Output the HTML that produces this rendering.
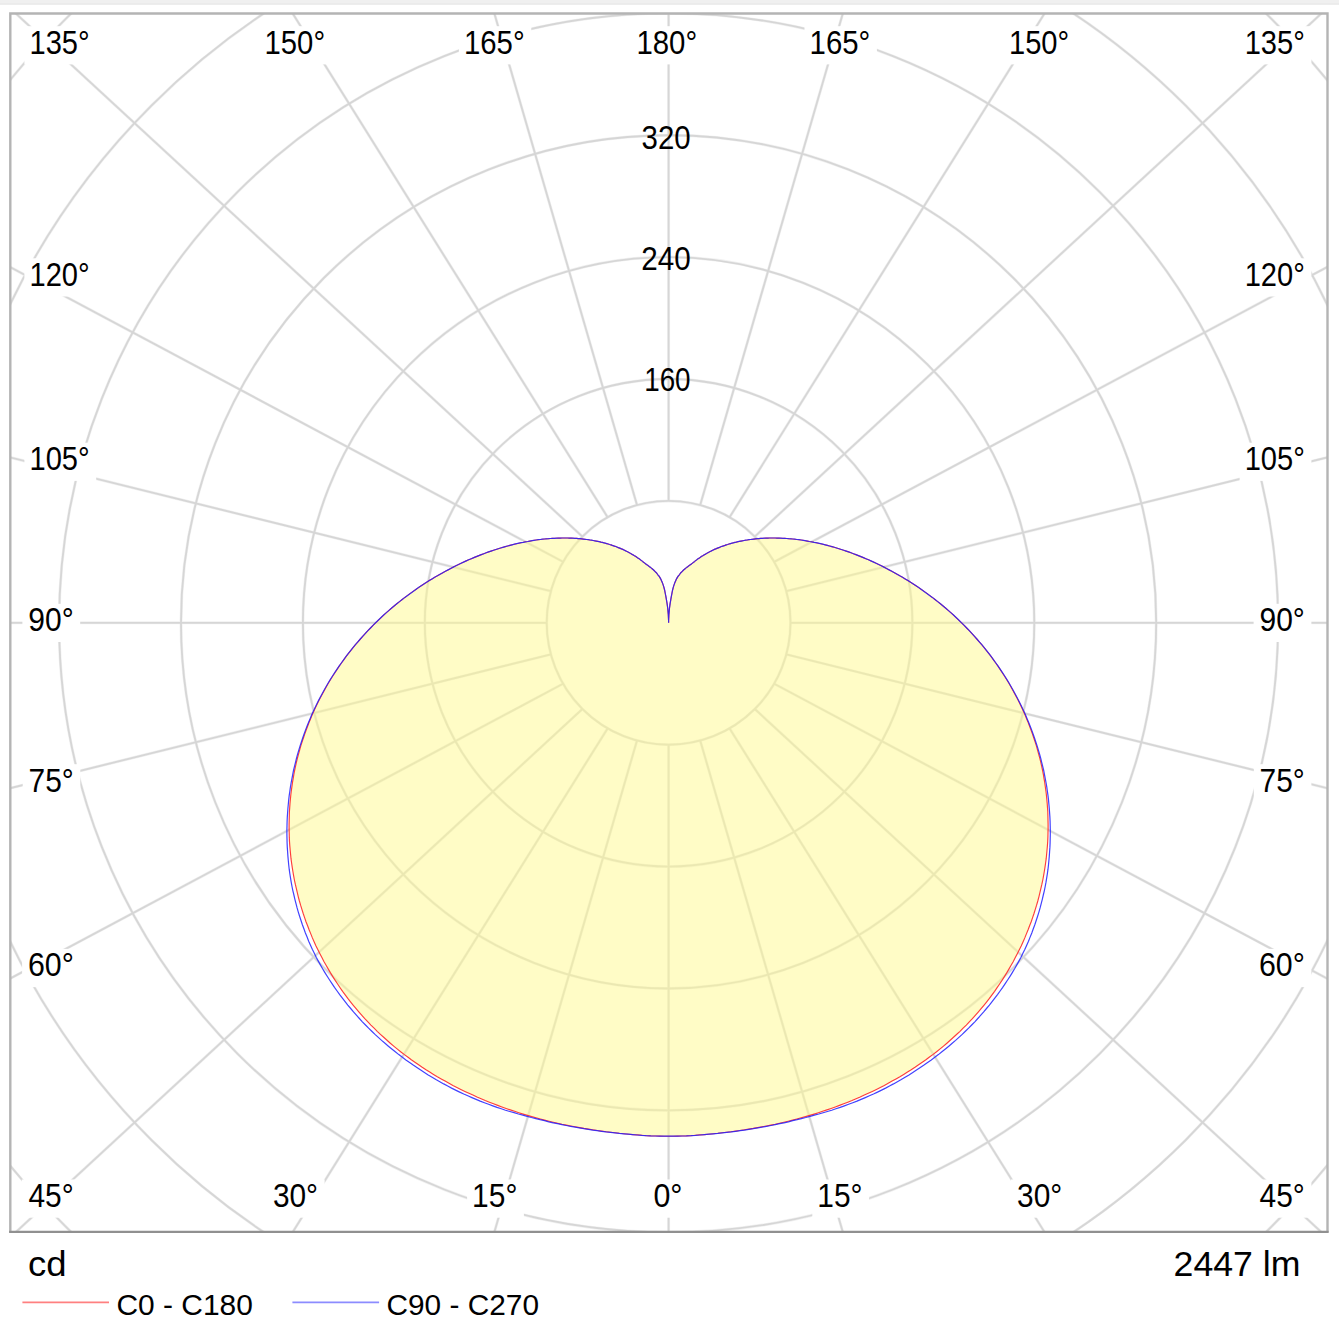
<!DOCTYPE html>
<html><head><meta charset="utf-8"><title>Polar diagram</title>
<style>
html,body{margin:0;padding:0;background:#fff;}
body{width:1339px;height:1324px;overflow:hidden;position:relative;font-family:"Liberation Sans",sans-serif;}
svg{position:absolute;left:0;top:0;display:block}
text{font-family:"Liberation Sans",sans-serif;fill:#000}
</style></head><body>
<svg width="1339" height="1324" viewBox="0 0 1339 1324">
<defs><clipPath id="fr"><rect x="10.3" y="13.5" width="1317.2" height="1218.3"/></clipPath></defs>
<rect x="0" y="0" width="1339" height="3.2" fill="#f0f0f0"/>
<rect x="0" y="3.2" width="1339" height="1.5" fill="#e6e6e6"/>

<g clip-path="url(#fr)">
<defs><g id="grid"><circle cx="668.6" cy="622.8" r="121.9"/><circle cx="668.6" cy="622.8" r="243.8"/><circle cx="668.6" cy="622.8" r="365.7"/><circle cx="668.6" cy="622.8" r="487.6"/><circle cx="668.6" cy="622.8" r="609.5"/><circle cx="668.6" cy="622.8" r="731.4"/><circle cx="668.6" cy="622.8" r="853.3"/><circle cx="668.6" cy="622.8" r="975.2"/><line x1="668.6" y1="744.7" x2="668.6" y2="1844.7"/><line x1="700.2" y1="740.5" x2="1006.7" y2="1797.0"/><line x1="729.6" y1="728.4" x2="1312.7" y2="1661.1"/><line x1="754.8" y1="709.0" x2="1563.0" y2="1455.2"/><line x1="774.2" y1="683.8" x2="1744.8" y2="1201.2"/><line x1="786.3" y1="654.4" x2="1854.1" y2="918.5"/><line x1="790.5" y1="622.8" x2="1890.5" y2="622.8"/><line x1="786.3" y1="591.2" x2="1854.1" y2="327.1"/><line x1="774.2" y1="561.9" x2="1744.8" y2="44.4"/><line x1="754.8" y1="536.6" x2="1563.0" y2="-209.6"/><line x1="729.6" y1="517.2" x2="1312.7" y2="-415.5"/><line x1="700.2" y1="505.1" x2="1006.7" y2="-551.4"/><line x1="668.6" y1="500.9" x2="668.6" y2="-599.1"/><line x1="637.0" y1="505.1" x2="330.5" y2="-551.4"/><line x1="607.6" y1="517.2" x2="24.5" y2="-415.5"/><line x1="582.4" y1="536.6" x2="-225.8" y2="-209.6"/><line x1="563.0" y1="561.8" x2="-407.6" y2="44.4"/><line x1="550.9" y1="591.2" x2="-516.9" y2="327.1"/><line x1="546.7" y1="622.8" x2="-553.3" y2="622.8"/><line x1="550.9" y1="654.4" x2="-516.9" y2="918.5"/><line x1="563.0" y1="683.8" x2="-407.6" y2="1201.2"/><line x1="582.4" y1="709.0" x2="-225.8" y2="1455.2"/><line x1="607.6" y1="728.4" x2="24.5" y2="1661.1"/><line x1="637.0" y1="740.5" x2="330.5" y2="1797.0"/></g></defs>
<use href="#grid" fill="none" stroke="#f1f1f1" stroke-width="3.0"/>
<use href="#grid" fill="none" stroke="#d6d6d6" stroke-width="1.85"/>
<path d="M668.6 1136.2 L673.1 1136.2 L677.6 1136.1 L682.0 1136.0 L686.5 1135.9 L691.0 1135.7 L695.5 1135.3 L699.9 1134.9 L704.4 1134.6 L708.8 1134.2 L713.3 1133.7 L717.8 1133.3 L722.2 1132.8 L726.6 1132.3 L731.1 1131.7 L735.5 1131.1 L740.0 1130.5 L744.4 1129.8 L748.8 1129.1 L753.2 1128.4 L757.6 1127.6 L762.0 1126.8 L766.4 1126.0 L770.8 1125.1 L775.2 1124.2 L779.5 1123.2 L783.9 1122.2 L788.2 1121.2 L792.6 1120.1 L796.9 1119.0 L801.2 1117.8 L805.5 1116.6 L809.8 1115.4 L814.1 1114.1 L818.4 1112.7 L822.6 1111.3 L826.9 1109.9 L831.1 1108.5 L835.3 1107.0 L839.5 1105.4 L843.7 1103.8 L847.8 1102.2 L852.0 1100.5 L856.1 1098.7 L860.2 1097.0 L864.3 1095.1 L868.3 1093.3 L872.3 1091.4 L876.4 1089.4 L880.3 1087.4 L884.3 1085.4 L888.2 1083.3 L892.1 1081.1 L896.0 1078.9 L899.9 1076.7 L903.7 1074.4 L907.5 1072.0 L911.2 1069.7 L915.0 1067.2 L918.6 1064.7 L922.3 1062.2 L925.9 1059.7 L929.5 1057.0 L933.1 1054.4 L936.6 1051.7 L940.1 1048.9 L943.5 1046.1 L946.9 1043.2 L950.2 1040.3 L953.5 1037.3 L956.8 1034.3 L960.0 1031.3 L963.1 1028.2 L966.3 1025.1 L969.3 1021.9 L972.4 1018.7 L975.3 1015.4 L978.2 1012.1 L981.1 1008.7 L983.9 1005.3 L986.7 1001.8 L989.4 998.4 L992.0 994.8 L994.6 991.3 L997.1 987.7 L999.6 984.0 L1002.0 980.4 L1004.4 976.6 L1006.7 972.9 L1008.9 969.1 L1011.1 965.3 L1013.3 961.5 L1015.3 957.6 L1017.3 953.7 L1019.3 949.8 L1021.2 945.9 L1023.0 941.9 L1024.8 937.9 L1026.4 933.9 L1028.1 929.8 L1029.6 925.7 L1031.2 921.7 L1032.6 917.6 L1034.0 913.5 L1035.3 909.3 L1036.6 905.2 L1037.8 901.0 L1038.9 896.8 L1039.9 892.6 L1040.9 888.4 L1041.9 884.2 L1042.8 880.0 L1043.6 875.7 L1044.3 871.5 L1045.0 867.2 L1045.6 863.0 L1046.2 858.7 L1046.6 854.5 L1047.0 850.2 L1047.4 845.9 L1047.7 841.6 L1047.9 837.4 L1048.0 833.1 L1048.1 828.8 L1048.1 824.6 L1048.0 820.3 L1047.9 816.1 L1047.8 811.8 L1047.5 807.6 L1047.2 803.4 L1046.8 799.2 L1046.4 795.0 L1045.9 790.8 L1045.3 786.6 L1044.7 782.4 L1044.0 778.3 L1043.3 774.2 L1042.5 770.1 L1041.6 766.0 L1040.7 761.9 L1039.7 757.9 L1038.6 753.8 L1037.5 749.8 L1036.4 745.9 L1035.1 741.9 L1033.8 738.0 L1032.5 734.1 L1031.1 730.2 L1029.6 726.3 L1028.2 722.5 L1026.6 718.7 L1025.1 715.0 L1023.4 711.3 L1021.7 707.6 L1020.0 703.9 L1018.2 700.3 L1016.3 696.7 L1014.4 693.2 L1012.5 689.7 L1010.6 686.2 L1008.6 682.7 L1006.5 679.3 L1004.4 676.0 L1002.3 672.7 L1000.1 669.4 L998.0 666.2 L995.7 663.0 L993.5 659.8 L991.2 656.7 L988.9 653.6 L986.5 650.6 L984.2 647.6 L981.7 644.7 L979.3 641.8 L976.8 639.0 L974.3 636.1 L971.8 633.4 L969.3 630.7 L966.7 628.0 L964.2 625.4 L961.6 622.8 L959.0 620.3 L956.4 617.8 L953.8 615.3 L951.1 612.9 L948.5 610.6 L945.8 608.3 L943.1 606.0 L940.4 603.8 L937.7 601.6 L935.0 599.5 L932.3 597.4 L929.6 595.4 L926.9 593.4 L924.1 591.4 L921.4 589.5 L918.7 587.6 L916.0 585.8 L913.3 584.0 L910.6 582.3 L907.9 580.6 L905.2 578.9 L902.5 577.3 L899.8 575.8 L897.1 574.2 L894.4 572.7 L891.8 571.3 L889.2 569.9 L886.5 568.5 L883.9 567.1 L881.3 565.8 L878.7 564.5 L876.1 563.3 L873.6 562.1 L871.0 560.9 L868.5 559.8 L865.9 558.7 L863.4 557.6 L860.9 556.6 L858.4 555.6 L855.9 554.6 L853.4 553.7 L851.0 552.8 L848.6 551.9 L846.2 551.1 L843.7 550.3 L841.3 549.5 L839.0 548.7 L836.6 548.0 L834.3 547.3 L831.9 546.6 L829.6 546.0 L827.3 545.4 L825.1 544.8 L822.8 544.2 L820.6 543.7 L818.3 543.2 L816.1 542.7 L813.9 542.3 L811.7 541.8 L809.5 541.5 L807.4 541.1 L805.2 540.7 L803.2 540.3 L801.1 540.0 L799.0 539.7 L796.9 539.5 L794.8 539.2 L792.8 539.0 L790.8 538.8 L788.7 538.7 L786.8 538.5 L784.8 538.4 L782.8 538.3 L780.9 538.2 L778.9 538.1 L777.0 538.1 L775.2 538.0 L773.3 538.0 L771.5 538.0 L769.6 538.0 L767.8 538.1 L766.0 538.1 L764.2 538.2 L762.5 538.3 L760.7 538.4 L758.9 538.6 L757.2 538.7 L755.5 538.9 L753.8 539.1 L752.1 539.3 L750.5 539.5 L748.8 539.7 L747.2 540.0 L745.6 540.2 L744.0 540.5 L742.5 540.8 L740.9 541.1 L739.4 541.4 L737.9 541.7 L736.3 542.1 L734.9 542.4 L733.4 542.8 L731.9 543.2 L730.5 543.6 L729.0 544.0 L727.6 544.5 L726.2 544.9 L724.9 545.4 L723.5 545.9 L722.1 546.3 L720.8 546.8 L719.5 547.4 L718.2 547.9 L716.9 548.4 L715.7 548.9 L714.4 549.4 L713.2 550.0 L712.0 550.6 L710.8 551.2 L709.6 551.8 L708.4 552.4 L707.3 553.1 L706.1 553.7 L705.0 554.4 L703.9 555.0 L702.8 555.7 L701.7 556.3 L700.7 557.0 L699.7 557.7 L698.6 558.4 L697.6 559.1 L696.6 559.9 L695.6 560.6 L694.7 561.4 L693.7 562.2 L692.8 562.9 L691.9 563.6 L691.1 564.2 L690.3 564.8 L689.5 565.3 L688.7 565.9 L688.0 566.5 L687.3 567.0 L686.5 567.6 L685.8 568.1 L685.1 568.7 L684.5 569.2 L683.8 569.8 L683.1 570.5 L682.5 571.1 L681.8 571.8 L681.1 572.5 L680.5 573.2 L679.9 574.0 L679.3 574.8 L678.6 575.6 L678.0 576.4 L677.4 577.4 L676.8 578.4 L676.2 579.6 L675.6 580.9 L675.0 582.3 L674.4 583.9 L673.8 585.6 L673.2 587.6 L672.6 590.0 L672.0 593.0 L671.4 596.1 L670.9 598.9 L670.5 601.4 L670.1 603.7 L669.8 605.9 L669.5 608.0 L669.3 610.2 L669.1 612.4 L668.9 614.5 L668.8 616.7 L668.7 618.7 L668.6 620.8 L668.6 622.8 L668.6 622.8 L668.6 620.8 L668.5 618.7 L668.4 616.7 L668.3 614.5 L668.1 612.4 L667.9 610.2 L667.7 608.0 L667.4 605.9 L667.1 603.7 L666.7 601.4 L666.3 598.9 L665.8 596.1 L665.2 593.0 L664.6 590.0 L664.0 587.6 L663.4 585.6 L662.8 583.9 L662.2 582.3 L661.6 580.9 L661.0 579.6 L660.4 578.4 L659.8 577.4 L659.2 576.4 L658.6 575.6 L657.9 574.8 L657.3 574.0 L656.7 573.2 L656.1 572.5 L655.4 571.8 L654.7 571.1 L654.1 570.5 L653.4 569.8 L652.7 569.2 L652.1 568.7 L651.4 568.1 L650.7 567.6 L649.9 567.0 L649.2 566.5 L648.5 565.9 L647.7 565.3 L646.9 564.8 L646.1 564.2 L645.3 563.6 L644.4 562.9 L643.5 562.2 L642.5 561.4 L641.6 560.6 L640.6 559.9 L639.6 559.1 L638.6 558.4 L637.5 557.7 L636.5 557.0 L635.5 556.3 L634.4 555.7 L633.3 555.0 L632.2 554.4 L631.1 553.7 L629.9 553.1 L628.8 552.4 L627.6 551.8 L626.4 551.2 L625.2 550.6 L624.0 550.0 L622.8 549.4 L621.5 548.9 L620.3 548.4 L619.0 547.9 L617.7 547.4 L616.4 546.8 L615.1 546.3 L613.7 545.9 L612.3 545.4 L611.0 544.9 L609.6 544.5 L608.2 544.0 L606.7 543.6 L605.3 543.2 L603.8 542.8 L602.3 542.4 L600.9 542.1 L599.3 541.7 L597.8 541.4 L596.3 541.1 L594.7 540.8 L593.2 540.5 L591.6 540.2 L590.0 540.0 L588.4 539.7 L586.7 539.5 L585.1 539.3 L583.4 539.1 L581.7 538.9 L580.0 538.7 L578.3 538.6 L576.5 538.4 L574.7 538.3 L573.0 538.2 L571.2 538.1 L569.4 538.1 L567.6 538.0 L565.7 538.0 L563.9 538.0 L562.0 538.0 L560.2 538.1 L558.3 538.1 L556.3 538.2 L554.4 538.3 L552.4 538.4 L550.4 538.5 L548.5 538.7 L546.4 538.8 L544.4 539.0 L542.4 539.2 L540.3 539.5 L538.2 539.7 L536.1 540.0 L534.0 540.3 L532.0 540.7 L529.8 541.1 L527.7 541.5 L525.5 541.8 L523.3 542.3 L521.1 542.7 L518.9 543.2 L516.6 543.7 L514.4 544.2 L512.1 544.8 L509.9 545.4 L507.6 546.0 L505.3 546.6 L502.9 547.3 L500.6 548.0 L498.2 548.7 L495.9 549.5 L493.5 550.3 L491.0 551.1 L488.6 551.9 L486.2 552.8 L483.8 553.7 L481.3 554.6 L478.8 555.6 L476.3 556.6 L473.8 557.6 L471.3 558.7 L468.7 559.8 L466.2 560.9 L463.6 562.1 L461.1 563.3 L458.5 564.5 L455.9 565.8 L453.3 567.1 L450.7 568.5 L448.0 569.9 L445.4 571.3 L442.8 572.7 L440.1 574.2 L437.4 575.8 L434.7 577.3 L432.0 578.9 L429.3 580.6 L426.6 582.3 L423.9 584.0 L421.2 585.8 L418.5 587.6 L415.8 589.5 L413.1 591.4 L410.3 593.4 L407.6 595.4 L404.9 597.4 L402.2 599.5 L399.5 601.6 L396.8 603.8 L394.1 606.0 L391.4 608.3 L388.7 610.6 L386.1 612.9 L383.4 615.3 L380.8 617.8 L378.2 620.3 L375.6 622.8 L373.0 625.4 L370.5 628.0 L367.9 630.7 L365.4 633.4 L362.9 636.1 L360.4 639.0 L357.9 641.8 L355.5 644.7 L353.0 647.6 L350.7 650.6 L348.3 653.6 L346.0 656.7 L343.7 659.8 L341.5 663.0 L339.2 666.2 L337.1 669.4 L334.9 672.7 L332.8 676.0 L330.7 679.3 L328.6 682.7 L326.6 686.2 L324.7 689.7 L322.8 693.2 L320.9 696.7 L319.0 700.3 L317.2 703.9 L315.5 707.6 L313.8 711.3 L312.1 715.0 L310.6 718.7 L309.0 722.5 L307.6 726.3 L306.1 730.2 L304.7 734.1 L303.4 738.0 L302.1 741.9 L300.8 745.9 L299.7 749.8 L298.6 753.8 L297.5 757.9 L296.5 761.9 L295.6 766.0 L294.7 770.1 L293.9 774.2 L293.2 778.3 L292.5 782.4 L291.9 786.6 L291.3 790.8 L290.8 795.0 L290.4 799.2 L290.0 803.4 L289.7 807.6 L289.4 811.8 L289.3 816.1 L289.2 820.3 L289.1 824.6 L289.1 828.8 L289.2 833.1 L289.3 837.4 L289.5 841.6 L289.8 845.9 L290.2 850.2 L290.6 854.5 L291.0 858.7 L291.6 863.0 L292.2 867.2 L292.9 871.5 L293.6 875.7 L294.4 880.0 L295.3 884.2 L296.3 888.4 L297.3 892.6 L298.3 896.8 L299.4 901.0 L300.6 905.2 L301.9 909.3 L303.2 913.5 L304.6 917.6 L306.0 921.7 L307.6 925.7 L309.1 929.8 L310.8 933.9 L312.4 937.9 L314.2 941.9 L316.0 945.9 L317.9 949.8 L319.9 953.7 L321.9 957.6 L323.9 961.5 L326.1 965.3 L328.3 969.1 L330.5 972.9 L332.8 976.6 L335.2 980.4 L337.6 984.0 L340.1 987.7 L342.6 991.3 L345.2 994.8 L347.8 998.4 L350.5 1001.8 L353.3 1005.3 L356.1 1008.7 L359.0 1012.1 L361.9 1015.4 L364.8 1018.7 L367.9 1021.9 L370.9 1025.1 L374.1 1028.2 L377.2 1031.3 L380.4 1034.3 L383.7 1037.3 L387.0 1040.3 L390.3 1043.2 L393.7 1046.1 L397.1 1048.9 L400.6 1051.7 L404.1 1054.4 L407.7 1057.0 L411.3 1059.7 L414.9 1062.2 L418.6 1064.7 L422.2 1067.2 L426.0 1069.7 L429.7 1072.0 L433.5 1074.4 L437.3 1076.7 L441.2 1078.9 L445.1 1081.1 L449.0 1083.3 L452.9 1085.4 L456.9 1087.4 L460.8 1089.4 L464.9 1091.4 L468.9 1093.3 L472.9 1095.1 L477.0 1097.0 L481.1 1098.7 L485.2 1100.5 L489.4 1102.2 L493.5 1103.8 L497.7 1105.4 L501.9 1107.0 L506.1 1108.5 L510.3 1109.9 L514.6 1111.3 L518.8 1112.7 L523.1 1114.1 L527.4 1115.4 L531.7 1116.6 L536.0 1117.8 L540.3 1119.0 L544.6 1120.1 L549.0 1121.2 L553.3 1122.2 L557.7 1123.2 L562.0 1124.2 L566.4 1125.1 L570.8 1126.0 L575.2 1126.8 L579.6 1127.6 L584.0 1128.4 L588.4 1129.1 L592.8 1129.8 L597.2 1130.5 L601.7 1131.1 L606.1 1131.7 L610.6 1132.3 L615.0 1132.8 L619.4 1133.3 L623.9 1133.7 L628.4 1134.2 L632.8 1134.6 L637.3 1134.9 L641.7 1135.3 L646.2 1135.7 L650.7 1135.9 L655.2 1136.0 L659.6 1136.1 L664.1 1136.2 L668.6 1136.2Z" fill="rgba(255,249,143,0.51)" stroke="none"/>
<path d="M668.6 1136.2 L673.1 1136.2 L677.6 1136.1 L682.0 1136.0 L686.5 1135.9 L691.0 1135.7 L695.5 1135.3 L699.9 1134.9 L704.4 1134.6 L708.8 1134.2 L713.3 1133.7 L717.8 1133.3 L722.2 1132.8 L726.6 1132.3 L731.1 1131.7 L735.5 1131.1 L740.0 1130.5 L744.4 1129.8 L748.8 1129.1 L753.2 1128.4 L757.6 1127.6 L762.0 1126.8 L766.4 1126.0 L770.8 1125.1 L775.2 1124.2 L779.5 1123.2 L783.9 1122.2 L788.2 1121.2 L792.6 1120.1 L796.9 1119.0 L801.2 1117.8 L805.5 1116.6 L809.8 1115.4 L814.1 1114.1 L818.4 1112.7 L822.6 1111.3 L826.9 1109.9 L831.1 1108.5 L835.3 1107.0 L839.5 1105.4 L843.7 1103.8 L847.8 1102.2 L852.0 1100.5 L856.1 1098.7 L860.2 1097.0 L864.3 1095.1 L868.3 1093.3 L872.3 1091.4 L876.4 1089.4 L880.3 1087.4 L884.3 1085.4 L888.2 1083.3 L892.1 1081.1 L896.0 1078.9 L899.9 1076.7 L903.7 1074.4 L907.5 1072.0 L911.2 1069.7 L915.0 1067.2 L918.6 1064.7 L922.3 1062.2 L925.9 1059.7 L929.5 1057.0 L933.1 1054.4 L936.6 1051.7 L940.1 1048.9 L943.5 1046.1 L946.9 1043.2 L950.2 1040.3 L953.5 1037.3 L956.8 1034.3 L960.0 1031.3 L963.1 1028.2 L966.3 1025.1 L969.3 1021.9 L972.4 1018.7 L975.3 1015.4 L978.2 1012.1 L981.1 1008.7 L983.9 1005.3 L986.7 1001.8 L989.4 998.4 L992.0 994.8 L994.6 991.3 L997.1 987.7 L999.6 984.0 L1002.0 980.4 L1004.4 976.6 L1006.7 972.9 L1008.9 969.1 L1011.1 965.3 L1013.3 961.5 L1015.3 957.6 L1017.3 953.7 L1019.3 949.8 L1021.2 945.9 L1023.0 941.9 L1024.8 937.9 L1026.4 933.9 L1028.1 929.8 L1029.6 925.7 L1031.2 921.7 L1032.6 917.6 L1034.0 913.5 L1035.3 909.3 L1036.6 905.2 L1037.8 901.0 L1038.9 896.8 L1039.9 892.6 L1040.9 888.4 L1041.9 884.2 L1042.8 880.0 L1043.6 875.7 L1044.3 871.5 L1045.0 867.2 L1045.6 863.0 L1046.2 858.7 L1046.6 854.5 L1047.0 850.2 L1047.4 845.9 L1047.7 841.6 L1047.9 837.4 L1048.0 833.1 L1048.1 828.8 L1048.1 824.6 L1048.0 820.3 L1047.9 816.1 L1047.8 811.8 L1047.5 807.6 L1047.2 803.4 L1046.8 799.2 L1046.4 795.0 L1045.9 790.8 L1045.3 786.6 L1044.7 782.4 L1044.0 778.3 L1043.3 774.2 L1042.5 770.1 L1041.6 766.0 L1040.7 761.9 L1039.7 757.9 L1038.6 753.8 L1037.5 749.8 L1036.4 745.9 L1035.1 741.9 L1033.8 738.0 L1032.5 734.1 L1031.1 730.2 L1029.6 726.3 L1028.2 722.5 L1026.6 718.7 L1025.1 715.0 L1023.4 711.3 L1021.7 707.6 L1020.0 703.9 L1018.2 700.3 L1016.3 696.7 L1014.4 693.2 L1012.5 689.7 L1010.6 686.2 L1008.6 682.7 L1006.5 679.3 L1004.4 676.0 L1002.3 672.7 L1000.1 669.4 L998.0 666.2 L995.7 663.0 L993.5 659.8 L991.2 656.7 L988.9 653.6 L986.5 650.6 L984.2 647.6 L981.7 644.7 L979.3 641.8 L976.8 639.0 L974.3 636.1 L971.8 633.4 L969.3 630.7 L966.7 628.0 L964.2 625.4 L961.6 622.8 L959.0 620.3 L956.4 617.8 L953.8 615.3 L951.1 612.9 L948.5 610.6 L945.8 608.3 L943.1 606.0 L940.4 603.8 L937.7 601.6 L935.0 599.5 L932.3 597.4 L929.6 595.4 L926.9 593.4 L924.1 591.4 L921.4 589.5 L918.7 587.6 L916.0 585.8 L913.3 584.0 L910.6 582.3 L907.9 580.6 L905.2 578.9 L902.5 577.3 L899.8 575.8 L897.1 574.2 L894.4 572.7 L891.8 571.3 L889.2 569.9 L886.5 568.5 L883.9 567.1 L881.3 565.8 L878.7 564.5 L876.1 563.3 L873.6 562.1 L871.0 560.9 L868.5 559.8 L865.9 558.7 L863.4 557.6 L860.9 556.6 L858.4 555.6 L855.9 554.6 L853.4 553.7 L851.0 552.8 L848.6 551.9 L846.2 551.1 L843.7 550.3 L841.3 549.5 L839.0 548.7 L836.6 548.0 L834.3 547.3 L831.9 546.6 L829.6 546.0 L827.3 545.4 L825.1 544.8 L822.8 544.2 L820.6 543.7 L818.3 543.2 L816.1 542.7 L813.9 542.3 L811.7 541.8 L809.5 541.5 L807.4 541.1 L805.2 540.7 L803.2 540.3 L801.1 540.0 L799.0 539.7 L796.9 539.5 L794.8 539.2 L792.8 539.0 L790.8 538.8 L788.7 538.7 L786.8 538.5 L784.8 538.4 L782.8 538.3 L780.9 538.2 L778.9 538.1 L777.0 538.1 L775.2 538.0 L773.3 538.0 L771.5 538.0 L769.6 538.0 L767.8 538.1 L766.0 538.1 L764.2 538.2 L762.5 538.3 L760.7 538.4 L758.9 538.6 L757.2 538.7 L755.5 538.9 L753.8 539.1 L752.1 539.3 L750.5 539.5 L748.8 539.7 L747.2 540.0 L745.6 540.2 L744.0 540.5 L742.5 540.8 L740.9 541.1 L739.4 541.4 L737.9 541.7 L736.3 542.1 L734.9 542.4 L733.4 542.8 L731.9 543.2 L730.5 543.6 L729.0 544.0 L727.6 544.5 L726.2 544.9 L724.9 545.4 L723.5 545.9 L722.1 546.3 L720.8 546.8 L719.5 547.4 L718.2 547.9 L716.9 548.4 L715.7 548.9 L714.4 549.4 L713.2 550.0 L712.0 550.6 L710.8 551.2 L709.6 551.8 L708.4 552.4 L707.3 553.1 L706.1 553.7 L705.0 554.4 L703.9 555.0 L702.8 555.7 L701.7 556.3 L700.7 557.0 L699.7 557.7 L698.6 558.4 L697.6 559.1 L696.6 559.9 L695.6 560.6 L694.7 561.4 L693.7 562.2 L692.8 562.9 L691.9 563.6 L691.1 564.2 L690.3 564.8 L689.5 565.3 L688.7 565.9 L688.0 566.5 L687.3 567.0 L686.5 567.6 L685.8 568.1 L685.1 568.7 L684.5 569.2 L683.8 569.8 L683.1 570.5 L682.5 571.1 L681.8 571.8 L681.1 572.5 L680.5 573.2 L679.9 574.0 L679.3 574.8 L678.6 575.6 L678.0 576.4 L677.4 577.4 L676.8 578.4 L676.2 579.6 L675.6 580.9 L675.0 582.3 L674.4 583.9 L673.8 585.6 L673.2 587.6 L672.6 590.0 L672.0 593.0 L671.4 596.1 L670.9 598.9 L670.5 601.4 L670.1 603.7 L669.8 605.9 L669.5 608.0 L669.3 610.2 L669.1 612.4 L668.9 614.5 L668.8 616.7 L668.7 618.7 L668.6 620.8 L668.6 622.8 L668.6 622.8 L668.6 620.8 L668.5 618.7 L668.4 616.7 L668.3 614.5 L668.1 612.4 L667.9 610.2 L667.7 608.0 L667.4 605.9 L667.1 603.7 L666.7 601.4 L666.3 598.9 L665.8 596.1 L665.2 593.0 L664.6 590.0 L664.0 587.6 L663.4 585.6 L662.8 583.9 L662.2 582.3 L661.6 580.9 L661.0 579.6 L660.4 578.4 L659.8 577.4 L659.2 576.4 L658.6 575.6 L657.9 574.8 L657.3 574.0 L656.7 573.2 L656.1 572.5 L655.4 571.8 L654.7 571.1 L654.1 570.5 L653.4 569.8 L652.7 569.2 L652.1 568.7 L651.4 568.1 L650.7 567.6 L649.9 567.0 L649.2 566.5 L648.5 565.9 L647.7 565.3 L646.9 564.8 L646.1 564.2 L645.3 563.6 L644.4 562.9 L643.5 562.2 L642.5 561.4 L641.6 560.6 L640.6 559.9 L639.6 559.1 L638.6 558.4 L637.5 557.7 L636.5 557.0 L635.5 556.3 L634.4 555.7 L633.3 555.0 L632.2 554.4 L631.1 553.7 L629.9 553.1 L628.8 552.4 L627.6 551.8 L626.4 551.2 L625.2 550.6 L624.0 550.0 L622.8 549.4 L621.5 548.9 L620.3 548.4 L619.0 547.9 L617.7 547.4 L616.4 546.8 L615.1 546.3 L613.7 545.9 L612.3 545.4 L611.0 544.9 L609.6 544.5 L608.2 544.0 L606.7 543.6 L605.3 543.2 L603.8 542.8 L602.3 542.4 L600.9 542.1 L599.3 541.7 L597.8 541.4 L596.3 541.1 L594.7 540.8 L593.2 540.5 L591.6 540.2 L590.0 540.0 L588.4 539.7 L586.7 539.5 L585.1 539.3 L583.4 539.1 L581.7 538.9 L580.0 538.7 L578.3 538.6 L576.5 538.4 L574.7 538.3 L573.0 538.2 L571.2 538.1 L569.4 538.1 L567.6 538.0 L565.7 538.0 L563.9 538.0 L562.0 538.0 L560.2 538.1 L558.3 538.1 L556.3 538.2 L554.4 538.3 L552.4 538.4 L550.4 538.5 L548.5 538.7 L546.4 538.8 L544.4 539.0 L542.4 539.2 L540.3 539.5 L538.2 539.7 L536.1 540.0 L534.0 540.3 L532.0 540.7 L529.8 541.1 L527.7 541.5 L525.5 541.8 L523.3 542.3 L521.1 542.7 L518.9 543.2 L516.6 543.7 L514.4 544.2 L512.1 544.8 L509.9 545.4 L507.6 546.0 L505.3 546.6 L502.9 547.3 L500.6 548.0 L498.2 548.7 L495.9 549.5 L493.5 550.3 L491.0 551.1 L488.6 551.9 L486.2 552.8 L483.8 553.7 L481.3 554.6 L478.8 555.6 L476.3 556.6 L473.8 557.6 L471.3 558.7 L468.7 559.8 L466.2 560.9 L463.6 562.1 L461.1 563.3 L458.5 564.5 L455.9 565.8 L453.3 567.1 L450.7 568.5 L448.0 569.9 L445.4 571.3 L442.8 572.7 L440.1 574.2 L437.4 575.8 L434.7 577.3 L432.0 578.9 L429.3 580.6 L426.6 582.3 L423.9 584.0 L421.2 585.8 L418.5 587.6 L415.8 589.5 L413.1 591.4 L410.3 593.4 L407.6 595.4 L404.9 597.4 L402.2 599.5 L399.5 601.6 L396.8 603.8 L394.1 606.0 L391.4 608.3 L388.7 610.6 L386.1 612.9 L383.4 615.3 L380.8 617.8 L378.2 620.3 L375.6 622.8 L373.0 625.4 L370.5 628.0 L367.9 630.7 L365.4 633.4 L362.9 636.1 L360.4 639.0 L357.9 641.8 L355.5 644.7 L353.0 647.6 L350.7 650.6 L348.3 653.6 L346.0 656.7 L343.7 659.8 L341.5 663.0 L339.2 666.2 L337.1 669.4 L334.9 672.7 L332.8 676.0 L330.7 679.3 L328.6 682.7 L326.6 686.2 L324.7 689.7 L322.8 693.2 L320.9 696.7 L319.0 700.3 L317.2 703.9 L315.5 707.6 L313.8 711.3 L312.1 715.0 L310.6 718.7 L309.0 722.5 L307.6 726.3 L306.1 730.2 L304.7 734.1 L303.4 738.0 L302.1 741.9 L300.8 745.9 L299.7 749.8 L298.6 753.8 L297.5 757.9 L296.5 761.9 L295.6 766.0 L294.7 770.1 L293.9 774.2 L293.2 778.3 L292.5 782.4 L291.9 786.6 L291.3 790.8 L290.8 795.0 L290.4 799.2 L290.0 803.4 L289.7 807.6 L289.4 811.8 L289.3 816.1 L289.2 820.3 L289.1 824.6 L289.1 828.8 L289.2 833.1 L289.3 837.4 L289.5 841.6 L289.8 845.9 L290.2 850.2 L290.6 854.5 L291.0 858.7 L291.6 863.0 L292.2 867.2 L292.9 871.5 L293.6 875.7 L294.4 880.0 L295.3 884.2 L296.3 888.4 L297.3 892.6 L298.3 896.8 L299.4 901.0 L300.6 905.2 L301.9 909.3 L303.2 913.5 L304.6 917.6 L306.0 921.7 L307.6 925.7 L309.1 929.8 L310.8 933.9 L312.4 937.9 L314.2 941.9 L316.0 945.9 L317.9 949.8 L319.9 953.7 L321.9 957.6 L323.9 961.5 L326.1 965.3 L328.3 969.1 L330.5 972.9 L332.8 976.6 L335.2 980.4 L337.6 984.0 L340.1 987.7 L342.6 991.3 L345.2 994.8 L347.8 998.4 L350.5 1001.8 L353.3 1005.3 L356.1 1008.7 L359.0 1012.1 L361.9 1015.4 L364.8 1018.7 L367.9 1021.9 L370.9 1025.1 L374.1 1028.2 L377.2 1031.3 L380.4 1034.3 L383.7 1037.3 L387.0 1040.3 L390.3 1043.2 L393.7 1046.1 L397.1 1048.9 L400.6 1051.7 L404.1 1054.4 L407.7 1057.0 L411.3 1059.7 L414.9 1062.2 L418.6 1064.7 L422.2 1067.2 L426.0 1069.7 L429.7 1072.0 L433.5 1074.4 L437.3 1076.7 L441.2 1078.9 L445.1 1081.1 L449.0 1083.3 L452.9 1085.4 L456.9 1087.4 L460.8 1089.4 L464.9 1091.4 L468.9 1093.3 L472.9 1095.1 L477.0 1097.0 L481.1 1098.7 L485.2 1100.5 L489.4 1102.2 L493.5 1103.8 L497.7 1105.4 L501.9 1107.0 L506.1 1108.5 L510.3 1109.9 L514.6 1111.3 L518.8 1112.7 L523.1 1114.1 L527.4 1115.4 L531.7 1116.6 L536.0 1117.8 L540.3 1119.0 L544.6 1120.1 L549.0 1121.2 L553.3 1122.2 L557.7 1123.2 L562.0 1124.2 L566.4 1125.1 L570.8 1126.0 L575.2 1126.8 L579.6 1127.6 L584.0 1128.4 L588.4 1129.1 L592.8 1129.8 L597.2 1130.5 L601.7 1131.1 L606.1 1131.7 L610.6 1132.3 L615.0 1132.8 L619.4 1133.3 L623.9 1133.7 L628.4 1134.2 L632.8 1134.6 L637.3 1134.9 L641.7 1135.3 L646.2 1135.7 L650.7 1135.9 L655.2 1136.0 L659.6 1136.1 L664.1 1136.2 L668.6 1136.2Z" fill="none" stroke="#ff2828" stroke-width="1.15" stroke-opacity="0.9"/>
<path d="M668.6 1136.2 L673.1 1136.2 L677.6 1136.1 L682.0 1136.0 L686.5 1135.9 L691.0 1135.7 L695.5 1135.4 L699.9 1135.0 L704.4 1134.6 L708.9 1134.2 L713.3 1133.8 L717.8 1133.4 L722.2 1132.9 L726.7 1132.4 L731.1 1131.9 L735.5 1131.3 L740.0 1130.7 L744.4 1130.1 L748.8 1129.4 L753.3 1128.7 L757.7 1127.9 L762.1 1127.1 L766.5 1126.3 L770.9 1125.5 L775.3 1124.6 L779.7 1123.7 L784.0 1122.8 L788.4 1121.8 L792.7 1120.7 L797.1 1119.7 L801.4 1118.6 L805.8 1117.5 L810.1 1116.3 L814.4 1115.2 L818.8 1114.0 L823.1 1112.7 L827.4 1111.5 L831.7 1110.2 L835.9 1108.8 L840.2 1107.4 L844.4 1105.9 L848.6 1104.3 L852.8 1102.7 L857.0 1101.1 L861.1 1099.4 L865.3 1097.6 L869.4 1095.8 L873.5 1094.0 L877.5 1092.1 L881.6 1090.1 L885.6 1088.1 L889.5 1086.0 L893.5 1083.9 L897.4 1081.7 L901.3 1079.5 L905.1 1077.2 L909.0 1074.9 L912.8 1072.5 L916.5 1070.1 L920.3 1067.6 L924.0 1065.1 L927.6 1062.5 L931.3 1059.9 L934.8 1057.3 L938.4 1054.6 L941.9 1051.8 L945.4 1049.0 L948.8 1046.2 L952.2 1043.3 L955.6 1040.4 L958.9 1037.4 L962.2 1034.4 L965.4 1031.3 L968.6 1028.2 L971.7 1025.0 L974.8 1021.8 L977.8 1018.5 L980.8 1015.2 L983.7 1011.9 L986.5 1008.5 L989.4 1005.1 L992.1 1001.6 L994.8 998.1 L997.5 994.6 L1000.1 991.0 L1002.7 987.4 L1005.2 983.7 L1007.6 980.0 L1010.0 976.3 L1012.3 972.6 L1014.6 968.8 L1016.8 964.9 L1018.9 961.1 L1021.0 957.2 L1022.9 953.2 L1024.9 949.3 L1026.7 945.2 L1028.5 941.2 L1030.1 937.1 L1031.8 933.0 L1033.3 928.8 L1034.8 924.7 L1036.2 920.5 L1037.6 916.3 L1038.9 912.1 L1040.1 907.9 L1041.2 903.6 L1042.3 899.3 L1043.3 895.0 L1044.3 890.8 L1045.2 886.5 L1046.0 882.2 L1046.7 877.8 L1047.4 873.5 L1048.0 869.2 L1048.5 864.8 L1048.9 860.5 L1049.3 856.1 L1049.6 851.8 L1049.9 847.4 L1050.1 843.0 L1050.2 838.7 L1050.3 834.4 L1050.3 830.0 L1050.2 825.7 L1050.1 821.4 L1049.9 817.1 L1049.6 812.8 L1049.3 808.5 L1048.9 804.2 L1048.5 799.9 L1048.0 795.7 L1047.4 791.5 L1046.8 787.2 L1046.1 783.0 L1045.3 778.8 L1044.5 774.7 L1043.7 770.5 L1042.7 766.4 L1041.7 762.3 L1040.7 758.2 L1039.6 754.2 L1038.4 750.1 L1037.2 746.1 L1035.9 742.2 L1034.6 738.2 L1033.2 734.3 L1031.8 730.4 L1030.3 726.5 L1028.8 722.7 L1027.2 718.9 L1025.6 715.1 L1024.0 711.4 L1022.2 707.7 L1020.4 704.0 L1018.6 700.4 L1016.7 696.8 L1014.8 693.2 L1012.9 689.7 L1010.9 686.2 L1008.9 682.8 L1006.8 679.4 L1004.7 676.0 L1002.5 672.7 L1000.3 669.4 L998.1 666.2 L995.9 663.0 L993.6 659.8 L991.3 656.7 L989.0 653.7 L986.6 650.6 L984.2 647.6 L981.8 644.7 L979.3 641.8 L976.9 639.0 L974.3 636.1 L971.8 633.4 L969.3 630.7 L966.7 628.0 L964.2 625.4 L961.6 622.8 L959.0 620.3 L956.4 617.8 L953.8 615.3 L951.1 612.9 L948.5 610.6 L945.8 608.3 L943.1 606.0 L940.4 603.8 L937.7 601.6 L935.0 599.5 L932.3 597.4 L929.6 595.4 L926.9 593.4 L924.1 591.4 L921.4 589.5 L918.7 587.6 L916.0 585.8 L913.3 584.0 L910.6 582.3 L907.9 580.6 L905.2 578.9 L902.5 577.3 L899.8 575.8 L897.1 574.2 L894.4 572.7 L891.8 571.3 L889.2 569.9 L886.5 568.5 L883.9 567.1 L881.3 565.8 L878.7 564.5 L876.1 563.3 L873.6 562.1 L871.0 560.9 L868.5 559.8 L865.9 558.7 L863.4 557.6 L860.9 556.6 L858.4 555.6 L855.9 554.6 L853.4 553.7 L851.0 552.8 L848.6 551.9 L846.2 551.1 L843.7 550.3 L841.3 549.5 L839.0 548.7 L836.6 548.0 L834.3 547.3 L831.9 546.6 L829.6 546.0 L827.3 545.4 L825.1 544.8 L822.8 544.2 L820.6 543.7 L818.3 543.2 L816.1 542.7 L813.9 542.3 L811.7 541.8 L809.5 541.5 L807.4 541.1 L805.2 540.7 L803.2 540.3 L801.1 540.0 L799.0 539.7 L796.9 539.5 L794.8 539.2 L792.8 539.0 L790.8 538.8 L788.7 538.7 L786.8 538.5 L784.8 538.4 L782.8 538.3 L780.9 538.2 L778.9 538.1 L777.0 538.1 L775.2 538.0 L773.3 538.0 L771.5 538.0 L769.6 538.0 L767.8 538.1 L766.0 538.1 L764.2 538.2 L762.5 538.3 L760.7 538.4 L758.9 538.6 L757.2 538.7 L755.5 538.9 L753.8 539.1 L752.1 539.3 L750.5 539.5 L748.8 539.7 L747.2 540.0 L745.6 540.2 L744.0 540.5 L742.5 540.8 L740.9 541.1 L739.4 541.4 L737.9 541.7 L736.3 542.1 L734.9 542.4 L733.4 542.8 L731.9 543.2 L730.5 543.6 L729.0 544.0 L727.6 544.5 L726.2 544.9 L724.9 545.4 L723.5 545.9 L722.1 546.3 L720.8 546.8 L719.5 547.4 L718.2 547.9 L716.9 548.4 L715.7 548.9 L714.4 549.4 L713.2 550.0 L712.0 550.6 L710.8 551.2 L709.6 551.8 L708.4 552.4 L707.3 553.1 L706.1 553.7 L705.0 554.4 L703.9 555.0 L702.8 555.7 L701.7 556.3 L700.7 557.0 L699.7 557.7 L698.6 558.4 L697.6 559.1 L696.6 559.9 L695.6 560.6 L694.7 561.4 L693.7 562.2 L692.8 562.9 L691.9 563.6 L691.1 564.2 L690.3 564.8 L689.5 565.3 L688.7 565.9 L688.0 566.5 L687.3 567.0 L686.5 567.6 L685.8 568.1 L685.1 568.7 L684.5 569.2 L683.8 569.8 L683.1 570.5 L682.5 571.1 L681.8 571.8 L681.1 572.5 L680.5 573.2 L679.9 574.0 L679.3 574.8 L678.6 575.6 L678.0 576.4 L677.4 577.4 L676.8 578.4 L676.2 579.6 L675.6 580.9 L675.0 582.3 L674.4 583.9 L673.8 585.6 L673.2 587.6 L672.6 590.0 L672.0 593.0 L671.4 596.1 L670.9 598.9 L670.5 601.4 L670.1 603.7 L669.8 605.9 L669.5 608.0 L669.3 610.2 L669.1 612.4 L668.9 614.5 L668.8 616.7 L668.7 618.7 L668.6 620.8 L668.6 622.8 L668.6 622.8 L668.6 620.8 L668.5 618.7 L668.4 616.7 L668.3 614.5 L668.1 612.4 L667.9 610.2 L667.7 608.0 L667.4 605.9 L667.1 603.7 L666.7 601.4 L666.3 598.9 L665.8 596.1 L665.2 593.0 L664.6 590.0 L664.0 587.6 L663.4 585.6 L662.8 583.9 L662.2 582.3 L661.6 580.9 L661.0 579.6 L660.4 578.4 L659.8 577.4 L659.2 576.4 L658.6 575.6 L657.9 574.8 L657.3 574.0 L656.7 573.2 L656.1 572.5 L655.4 571.8 L654.7 571.1 L654.1 570.5 L653.4 569.8 L652.7 569.2 L652.1 568.7 L651.4 568.1 L650.7 567.6 L649.9 567.0 L649.2 566.5 L648.5 565.9 L647.7 565.3 L646.9 564.8 L646.1 564.2 L645.3 563.6 L644.4 562.9 L643.5 562.2 L642.5 561.4 L641.6 560.6 L640.6 559.9 L639.6 559.1 L638.6 558.4 L637.5 557.7 L636.5 557.0 L635.5 556.3 L634.4 555.7 L633.3 555.0 L632.2 554.4 L631.1 553.7 L629.9 553.1 L628.8 552.4 L627.6 551.8 L626.4 551.2 L625.2 550.6 L624.0 550.0 L622.8 549.4 L621.5 548.9 L620.3 548.4 L619.0 547.9 L617.7 547.4 L616.4 546.8 L615.1 546.3 L613.7 545.9 L612.3 545.4 L611.0 544.9 L609.6 544.5 L608.2 544.0 L606.7 543.6 L605.3 543.2 L603.8 542.8 L602.3 542.4 L600.9 542.1 L599.3 541.7 L597.8 541.4 L596.3 541.1 L594.7 540.8 L593.2 540.5 L591.6 540.2 L590.0 540.0 L588.4 539.7 L586.7 539.5 L585.1 539.3 L583.4 539.1 L581.7 538.9 L580.0 538.7 L578.3 538.6 L576.5 538.4 L574.7 538.3 L573.0 538.2 L571.2 538.1 L569.4 538.1 L567.6 538.0 L565.7 538.0 L563.9 538.0 L562.0 538.0 L560.2 538.1 L558.3 538.1 L556.3 538.2 L554.4 538.3 L552.4 538.4 L550.4 538.5 L548.5 538.7 L546.4 538.8 L544.4 539.0 L542.4 539.2 L540.3 539.5 L538.2 539.7 L536.1 540.0 L534.0 540.3 L532.0 540.7 L529.8 541.1 L527.7 541.5 L525.5 541.8 L523.3 542.3 L521.1 542.7 L518.9 543.2 L516.6 543.7 L514.4 544.2 L512.1 544.8 L509.9 545.4 L507.6 546.0 L505.3 546.6 L502.9 547.3 L500.6 548.0 L498.2 548.7 L495.9 549.5 L493.5 550.3 L491.0 551.1 L488.6 551.9 L486.2 552.8 L483.8 553.7 L481.3 554.6 L478.8 555.6 L476.3 556.6 L473.8 557.6 L471.3 558.7 L468.7 559.8 L466.2 560.9 L463.6 562.1 L461.1 563.3 L458.5 564.5 L455.9 565.8 L453.3 567.1 L450.7 568.5 L448.0 569.9 L445.4 571.3 L442.8 572.7 L440.1 574.2 L437.4 575.8 L434.7 577.3 L432.0 578.9 L429.3 580.6 L426.6 582.3 L423.9 584.0 L421.2 585.8 L418.5 587.6 L415.8 589.5 L413.1 591.4 L410.3 593.4 L407.6 595.4 L404.9 597.4 L402.2 599.5 L399.5 601.6 L396.8 603.8 L394.1 606.0 L391.4 608.3 L388.7 610.6 L386.1 612.9 L383.4 615.3 L380.8 617.8 L378.2 620.3 L375.6 622.8 L373.0 625.4 L370.5 628.0 L367.9 630.7 L365.4 633.4 L362.9 636.1 L360.3 639.0 L357.9 641.8 L355.4 644.7 L353.0 647.6 L350.6 650.6 L348.2 653.7 L345.9 656.7 L343.6 659.8 L341.3 663.0 L339.1 666.2 L336.9 669.4 L334.7 672.7 L332.5 676.0 L330.4 679.4 L328.3 682.8 L326.3 686.2 L324.3 689.7 L322.4 693.2 L320.5 696.8 L318.6 700.4 L316.8 704.0 L315.0 707.7 L313.2 711.4 L311.6 715.1 L310.0 718.9 L308.4 722.7 L306.9 726.5 L305.4 730.4 L304.0 734.3 L302.6 738.2 L301.3 742.2 L300.0 746.1 L298.8 750.1 L297.6 754.2 L296.5 758.2 L295.5 762.3 L294.5 766.4 L293.5 770.5 L292.7 774.7 L291.9 778.8 L291.1 783.0 L290.4 787.2 L289.8 791.5 L289.2 795.7 L288.7 799.9 L288.3 804.2 L287.9 808.5 L287.6 812.8 L287.3 817.1 L287.1 821.4 L287.0 825.7 L286.9 830.0 L286.9 834.4 L287.0 838.7 L287.1 843.0 L287.3 847.4 L287.6 851.8 L287.9 856.1 L288.3 860.5 L288.7 864.8 L289.2 869.2 L289.8 873.5 L290.5 877.8 L291.2 882.2 L292.0 886.5 L292.9 890.8 L293.9 895.0 L294.9 899.3 L296.0 903.6 L297.1 907.9 L298.3 912.1 L299.6 916.3 L301.0 920.5 L302.4 924.7 L303.9 928.8 L305.4 933.0 L307.1 937.1 L308.7 941.2 L310.5 945.2 L312.3 949.3 L314.3 953.2 L316.2 957.2 L318.3 961.1 L320.4 964.9 L322.6 968.8 L324.9 972.6 L327.2 976.3 L329.6 980.0 L332.0 983.7 L334.5 987.4 L337.1 991.0 L339.7 994.6 L342.4 998.1 L345.1 1001.6 L347.8 1005.1 L350.7 1008.5 L353.5 1011.9 L356.4 1015.2 L359.4 1018.5 L362.4 1021.8 L365.5 1025.0 L368.6 1028.2 L371.8 1031.3 L375.0 1034.4 L378.3 1037.4 L381.6 1040.4 L385.0 1043.3 L388.4 1046.2 L391.8 1049.0 L395.3 1051.8 L398.8 1054.6 L402.4 1057.3 L405.9 1059.9 L409.6 1062.5 L413.2 1065.1 L416.9 1067.6 L420.7 1070.1 L424.4 1072.5 L428.2 1074.9 L432.1 1077.2 L435.9 1079.5 L439.8 1081.7 L443.7 1083.9 L447.7 1086.0 L451.6 1088.1 L455.6 1090.1 L459.7 1092.1 L463.7 1094.0 L467.8 1095.8 L471.9 1097.6 L476.1 1099.4 L480.2 1101.1 L484.4 1102.7 L488.6 1104.3 L492.8 1105.9 L497.0 1107.4 L501.3 1108.8 L505.5 1110.2 L509.8 1111.5 L514.1 1112.7 L518.4 1114.0 L522.8 1115.2 L527.1 1116.3 L531.4 1117.5 L535.8 1118.6 L540.1 1119.7 L544.5 1120.7 L548.8 1121.8 L553.2 1122.8 L557.5 1123.7 L561.9 1124.6 L566.3 1125.5 L570.7 1126.3 L575.1 1127.1 L579.5 1127.9 L583.9 1128.7 L588.4 1129.4 L592.8 1130.1 L597.2 1130.7 L601.7 1131.3 L606.1 1131.9 L610.5 1132.4 L615.0 1132.9 L619.4 1133.4 L623.9 1133.8 L628.3 1134.2 L632.8 1134.6 L637.3 1135.0 L641.7 1135.4 L646.2 1135.7 L650.7 1135.9 L655.2 1136.0 L659.6 1136.1 L664.1 1136.2 L668.6 1136.2Z" fill="none" stroke="#2020ff" stroke-width="1.2" stroke-opacity="0.85"/>
<rect x="24.4" y="26.2" width="71.8" height="38.2" fill="#fff"/><text transform="translate(29.47,53.55) scale(0.9690,1.0850)" font-size="30">135°</text>
<rect x="259.5" y="26.2" width="72.2" height="38.2" fill="#fff"/><text transform="translate(264.56,53.55) scale(0.9759,1.0850)" font-size="30">150°</text>
<rect x="458.9" y="26.2" width="72.4" height="38.2" fill="#fff"/><text transform="translate(463.95,53.55) scale(0.9793,1.0850)" font-size="30">165°</text>
<rect x="631.4" y="26.2" width="72.4" height="38.2" fill="#fff"/><text transform="translate(636.45,53.55) scale(0.9793,1.0850)" font-size="30">180°</text>
<rect x="804.5" y="26.2" width="72.4" height="38.2" fill="#fff"/><text transform="translate(809.55,53.55) scale(0.9793,1.0850)" font-size="30">165°</text>
<rect x="1003.9" y="26.2" width="71.9" height="38.2" fill="#fff"/><text transform="translate(1008.97,53.55) scale(0.9707,1.0850)" font-size="30">150°</text>
<rect x="1239.6" y="26.2" width="71.8" height="38.2" fill="#fff"/><text transform="translate(1244.67,53.55) scale(0.9690,1.0850)" font-size="30">135°</text>
<rect x="21.8" y="1179.5" width="58.4" height="38.2" fill="#fff"/><text transform="translate(28.40,1206.85) scale(0.9977,1.0850)" font-size="30">45°</text>
<rect x="266.8" y="1179.5" width="57.8" height="38.2" fill="#fff"/><text transform="translate(272.91,1206.85) scale(0.9953,1.0850)" font-size="30">30°</text>
<rect x="467.1" y="1179.5" width="56.8" height="38.2" fill="#fff"/><text transform="translate(472.11,1206.85) scale(0.9976,1.0850)" font-size="30">15°</text>
<rect x="647.3" y="1179.5" width="41.6" height="38.2" fill="#fff"/><text transform="translate(653.39,1206.85) scale(1.0117,1.0850)" font-size="30">0°</text>
<rect x="812.3" y="1179.5" width="56.8" height="38.2" fill="#fff"/><text transform="translate(817.31,1206.85) scale(0.9976,1.0850)" font-size="30">15°</text>
<rect x="1011.0" y="1179.5" width="57.8" height="38.2" fill="#fff"/><text transform="translate(1017.11,1206.85) scale(0.9953,1.0850)" font-size="30">30°</text>
<rect x="1253.0" y="1179.5" width="58.4" height="38.2" fill="#fff"/><text transform="translate(1259.60,1206.85) scale(0.9977,1.0850)" font-size="30">45°</text>
<rect x="24.4" y="258.3" width="71.8" height="38.2" fill="#fff"/><text transform="translate(29.47,285.65) scale(0.9690,1.0850)" font-size="30">120°</text>
<rect x="24.4" y="442.7" width="71.8" height="38.2" fill="#fff"/><text transform="translate(29.47,470.05) scale(0.9690,1.0850)" font-size="30">105°</text>
<rect x="22.4" y="603.8" width="57.8" height="38.2" fill="#fff"/><text transform="translate(28.30,631.15) scale(1.0000,1.0850)" font-size="30">90°</text>
<rect x="22.7" y="764.2" width="57.6" height="38.2" fill="#fff"/><text transform="translate(28.50,791.55) scale(0.9976,1.0850)" font-size="30">75°</text>
<rect x="22.1" y="948.9" width="58.2" height="38.2" fill="#fff"/><text transform="translate(27.88,976.25) scale(1.0119,1.0850)" font-size="30">60°</text>
<rect x="1239.6" y="258.3" width="71.8" height="38.2" fill="#fff"/><text transform="translate(1244.67,285.65) scale(0.9690,1.0850)" font-size="30">120°</text>
<rect x="1239.6" y="442.7" width="71.8" height="38.2" fill="#fff"/><text transform="translate(1244.67,470.05) scale(0.9690,1.0850)" font-size="30">105°</text>
<rect x="1253.6" y="603.8" width="57.8" height="38.2" fill="#fff"/><text transform="translate(1259.50,631.15) scale(1.0000,1.0850)" font-size="30">90°</text>
<rect x="1253.8" y="764.2" width="57.6" height="38.2" fill="#fff"/><text transform="translate(1259.60,791.55) scale(0.9976,1.0850)" font-size="30">75°</text>
<rect x="1253.2" y="948.9" width="58.2" height="38.2" fill="#fff"/><text transform="translate(1258.98,976.25) scale(1.0119,1.0850)" font-size="30">60°</text>
</g>
<text transform="translate(641.52,148.65) scale(0.9811,1.0850)" font-size="30">320</text>
<text transform="translate(641.22,270.05) scale(0.9873,1.0850)" font-size="30">240</text>
<text transform="translate(644.17,390.95) scale(0.9270,1.0850)" font-size="30">160</text>
<path d="M10.3 1231.8 V13.5 H1327.5 V1231.8" fill="none" stroke="#b4b4b4" stroke-width="2.4"/>
<path d="M9.1 1231.8 H1328.7" fill="none" stroke="#909090" stroke-width="2.2"/>
<text transform="translate(27.92,1276.05) scale(1.0443,0.9950)" font-size="35">cd</text>
<text transform="translate(1173.62,1276.15) scale(1.0191,1.0000)" font-size="35">2447 lm</text>
<line x1="22.4" y1="1302.4" x2="109" y2="1302.4" stroke="#ff8080" stroke-width="1.8"/>
<text transform="translate(116.50,1314.85) scale(0.9978,1.0000)" font-size="30">C0 - C180</text>
<line x1="292.4" y1="1302.4" x2="379.1" y2="1302.4" stroke="#8c8cff" stroke-width="1.8"/>
<text transform="translate(386.51,1314.85) scale(0.9940,1.0000)" font-size="30">C90 - C270</text>
</svg></body></html>
